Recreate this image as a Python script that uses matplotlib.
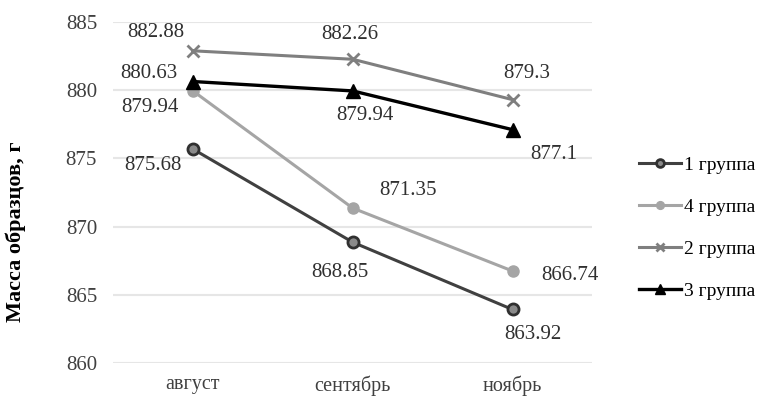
import matplotlib.pyplot as plt

plt.rcParams['font.family'] = ['Liberation Serif', 'DejaVu Serif']

months = ['август', 'сентябрь', 'ноябрь']
group1 = [875.68, 868.85, 863.92]
group4 = [879.94, 871.35, 866.74]
group2 = [882.88, 882.26, 879.3]
group3 = [880.63, 879.94, 877.1]
series_names = ['1 группа', '4 группа', '2 группа', '3 группа']

fig = plt.figure(figsize=(7.61, 3.98), dpi=100)
ax = fig.add_axes([0.1485, 0.088, 0.63, 0.857])

x = range(len(months))

ax.plot(x, group1, color='#404040', lw=2.2, marker='o', ms=8,
        mfc='#8a8a8a', mec='#303030', mew=2, label=series_names[0], zorder=3)
ax.plot(x, group4, color='#a5a5a5', lw=2.2, marker='o', ms=8,
        mfc='#a5a5a5', mec='#a5a5a5', label=series_names[1], zorder=3)
ax.plot(x, group2, color='#7f7f7f', lw=2.2, marker='x', ms=9, mew=2,
        mec='#7f7f7f', label=series_names[2], zorder=3)
ax.plot(x, group3, color='#000000', lw=2.4, marker='^', ms=10,
        label=series_names[3], zorder=4)

# value labels, offsets in points from each point (label centre)
lab_fs = 15
def put(vals, offs):
    for i, (v, (dx, dy)) in enumerate(zip(vals, offs)):
        ax.annotate(f'{v:g}', (i, v), xytext=(dx, dy), textcoords='offset points',
                    ha='center', va='center', fontsize=lab_fs, color='#303030')

put(group2, [(-27, 13), (-2, 17.5), (10, 19)])
put(group3, [(-32, 6), (9, -18), (30, -18)])
put(group4, [(-31, -12), (40, 13), (41, -3.5)])
put(group1, [(-29, -12), (-9, -22), (15, -18)])

ax.set_xlim(-0.5, 2.5)
ax.set_ylim(860, 885)
ax.set_yticks([860, 865, 870, 875, 880, 885])
ax.set_xticks(list(x))
ax.set_xticklabels(months)
ax.tick_params(axis='both', length=0, labelsize=15, labelcolor='#404040')
ax.tick_params(axis='y', pad=11.5)
ax.tick_params(axis='x', pad=9, labelsize=14.5)
ax.grid(axis='y', color='#e6e6e6', lw=1.5)
ax.set_axisbelow(True)
for s in ax.spines.values():
    s.set_visible(False)

ax.set_ylabel('Масса образцов, г', fontsize=16, fontweight='bold')
ax.yaxis.set_label_coords(-0.181, 0.385)

ax.legend(loc='center left', bbox_to_anchor=(1.06, 0.395), frameon=False,
          fontsize=14, handlelength=2.2, handletextpad=0.15, labelspacing=1.25,
          markerscale=0.7)

plt.savefig('out.png', dpi=100)
